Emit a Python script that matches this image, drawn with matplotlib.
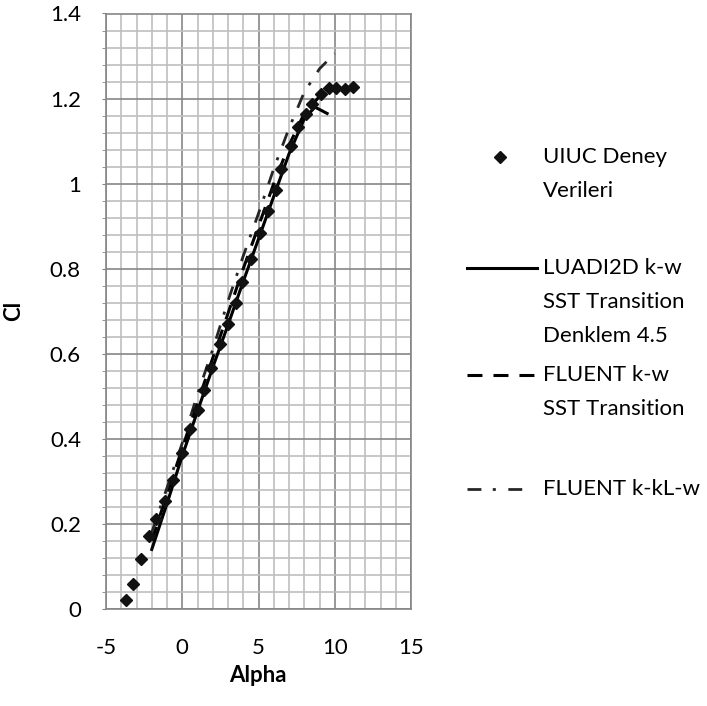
import matplotlib
matplotlib.use("Agg")
import matplotlib.pyplot as plt
import numpy as np
from matplotlib.lines import Line2D
from matplotlib.ticker import MultipleLocator, FuncFormatter

plt.rcParams['font.family'] = ['Lato', 'DejaVu Sans']
plt.rcParams['axes.unicode_minus'] = False

# UIUC wind tunnel data
uiuc_alpha = [-3.7, -3.25, -2.7, -2.15, -1.7, -1.15, -0.6, 0.0, 0.5, 1.0, 1.4, 1.9, 2.45,
              3.0, 3.5, 3.9, 4.5, 5.1, 5.6, 6.15, 6.5, 7.1, 7.6, 8.1, 8.5, 9.1, 9.6, 10.1,
              10.65, 11.2]
uiuc_cl = [0.021, 0.058, 0.117, 0.172, 0.211, 0.255, 0.303, 0.367, 0.422, 0.469, 0.516,
           0.566, 0.622, 0.669, 0.72, 0.769, 0.824, 0.885, 0.936, 0.985, 1.034, 1.088,
           1.132, 1.164, 1.187, 1.211, 1.224, 1.224, 1.222, 1.228]

# LUADI2D k-w SST Transition (Denklem 4.5)
luadi_alpha = [-2, -1, 0, 1, 2, 3, 4, 5, 6, 7, 8, 8.7, 9.5]
luadi_cl = [0.14, 0.248, 0.36, 0.465, 0.568, 0.668, 0.77, 0.87, 0.97, 1.07, 1.152, 1.18, 1.165]

# FLUENT k-w SST Transition
sst_alpha = [-2, -1, 0, 1, 2, 3, 4, 5, 6, 7, 8, 9]
sst_cl = [0.16, 0.27, 0.378, 0.485, 0.59, 0.695, 0.8, 0.9, 1.0, 1.09, 1.165, 1.205]

# FLUENT k-kL-w
kkl_alpha = [-2, -1, 0, 1, 2, 3, 4, 5, 6, 7, 8, 9, 10]
kkl_cl = [0.18, 0.285, 0.39, 0.505, 0.61, 0.724, 0.83, 0.93, 1.035, 1.13, 1.215, 1.27, 1.306]

W, H = 707, 706
FS = 16
DASH = (4.9, 3.6)
DASHDOT = (5, 4.1, 1.1, 4.5)

fig = plt.figure(figsize=(W / 100, H / 100), dpi=100)
ax = fig.add_axes([106 / W, 1 - 609 / H, 305 / W, 595.5 / H])

ax.plot(uiuc_alpha, uiuc_cl, linestyle='none', marker='D', markersize=6.5, color='#111111', zorder=5)
ax.plot(luadi_alpha, luadi_cl, color='black', lw=2.2, zorder=4)
ax.plot(sst_alpha, sst_cl, color='black', lw=2.2, dashes=DASH, zorder=4)
ax.plot(kkl_alpha, kkl_cl, color='#262626', lw=2.0, dashes=DASHDOT, zorder=4)

ax.set_xlim(-5, 15)
ax.set_ylim(0, 1.4)
ax.xaxis.set_major_locator(MultipleLocator(5))
ax.xaxis.set_minor_locator(MultipleLocator(1))
ax.yaxis.set_major_locator(MultipleLocator(0.2))
ax.yaxis.set_minor_locator(MultipleLocator(0.04))
ax.yaxis.set_major_formatter(FuncFormatter(lambda v, p: '%g' % round(v, 2)))

ax.grid(which='minor', color='#bfbfbf', lw=1.2)
ax.grid(which='major', color='#868686', lw=1.2)
ax.set_axisbelow(True)
for s in ax.spines.values():
    s.set_color('#868686')
    s.set_linewidth(1.2)

ax.tick_params(axis='x', which='both', length=0, pad=21, labelsize=FS)
ax.tick_params(axis='y', which='major', length=3, color='#868686', pad=15, labelsize=FS)
ax.tick_params(axis='y', which='minor', length=3, color='#868686')

ax.set_xlabel('Alpha', fontsize=FS, fontweight='bold')
ax.xaxis.set_label_coords(0.498, -0.1125)
ax.xaxis.label.set_verticalalignment('center')
ax.set_ylabel('Cl', fontsize=FS, fontweight='bold')
ax.yaxis.set_label_coords(-0.3016, 0.5004)
ax.yaxis.label.set_verticalalignment('center')


# legend drawn by hand so each handle sits on the first text line
def fx(px):
    return px / W


def fy(py):
    return 1 - py / H


fig.add_artist(Line2D([fx(500)], [fy(157)], marker='D', markersize=6, color='#111111',
                      linestyle='none', transform=fig.transFigure))
fig.add_artist(Line2D([fx(467), fx(537)], [fy(268), fy(268)], color='black', lw=2.2,
                      transform=fig.transFigure))
fig.add_artist(Line2D([fx(467), fx(536)], [fy(375), fy(375)], color='black', lw=2.2,
                      dashes=DASH, transform=fig.transFigure))
fig.add_artist(Line2D([fx(467), fx(523)], [fy(489), fy(489)], color='#262626', lw=2.0,
                      dashes=DASHDOT, transform=fig.transFigure))

legend_rows = [(157, 'UIUC Deney'), (191, 'Verileri'),
               (268, 'LUADI2D k-w'), (302, 'SST Transition'), (336, 'Denklem 4.5'),
               (375, 'FLUENT k-w'), (409, 'SST Transition'),
               (489, 'FLUENT k-kL-w')]
for py, txt in legend_rows:
    fig.text(fx(543), fy(py), txt, fontsize=FS, va='center', ha='left')

fig.savefig('out.png', dpi=100)
